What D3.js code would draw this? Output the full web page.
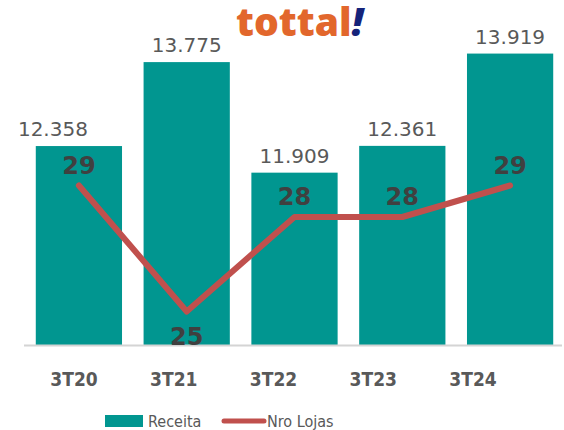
<!DOCTYPE html>
<html>
<head>
<meta charset="utf-8">
<script src="https://cdn.jsdelivr.net/npm/d3@7"></script>
<style>
  body { margin: 0; background: #fff; }
  svg { display: block; }
</style>
</head>
<body>
<div id="chart"></div>
<script>
// Data
const categories = ["3T20", "3T21", "3T22", "3T23", "3T24"];
const receita = [12358, 13775, 11909, 12361, 13919];
const lojas = [29, 25, 28, 28, 29];
const legendLabels = ["Receita", "Nro Lojas"];

// Dimensions
const width = 564, height = 430;
const baseY = 345;

const svg = d3.select("#chart")
    .append("svg")
    .attr("width", width)
    .attr("height", height);

// Scales
const x = d3.scaleBand()
    .domain(categories)
    .range([25, 564])
    .paddingInner(0.2)
    .paddingOuter(0.1);

// category labels sit on a slightly tighter grid than the bars
const xLab = d3.scalePoint()
    .domain(categories)
    .range([74, 473]);

const y = d3.scaleLinear()
    .domain([9000, 14300])
    .range([baseY, 31]);

const y2 = d3.scaleLinear()
    .domain([24, 34])
    .range([343, 28]);

const ptBR = d3.formatLocale({decimal: ",", thousands: ".", grouping: [3], currency: ["R$", ""]});
const fmt = ptBR.format(",");

// Logo
const logo = svg.append("text")
    .attr("x", 236)
    .attr("y", 36)
    .style("font-family", "'Open Sans'")
    .style("font-weight", 800)
    .style("font-size", "39px");
logo.append("tspan").attr("fill", "#e2672c").text("tottal");
logo.append("tspan").attr("fill", "#15237a").style("font-style", "italic").text("!");

// Bars
svg.selectAll(".bar")
    .data(receita)
    .enter()
    .append("rect")
    .attr("class", "bar")
    .attr("x", (d, i) => x(categories[i]))
    .attr("width", x.bandwidth())
    .attr("y", d => y(d))
    .attr("height", d => baseY - y(d))
    .attr("fill", "#019690");

// Baseline
svg.append("line")
    .attr("x1", 24).attr("x2", 562)
    .attr("y1", baseY + 0.5).attr("y2", baseY + 0.5)
    .attr("stroke", "#d4d4d4")
    .attr("stroke-width", 2);

// Value labels
svg.selectAll(".val")
    .data(receita)
    .enter()
    .append("text")
    .attr("class", "val")
    .attr("x", (d, i) => x(categories[i]) + x.bandwidth() / 2 + (i === 0 ? -26 : 0))
    .attr("y", d => y(d) - 10)
    .attr("text-anchor", "middle")
    .style("font-family", "'DejaVu Sans'")
    .style("font-size", "20px")
    .attr("fill", "#595959")
    .text(d => fmt(d));

// Line
const line = d3.line()
    .x((d, i) => x(categories[i]) + x.bandwidth() / 2)
    .y(d => y2(d));

svg.append("path")
    .datum(lojas)
    .attr("d", line)
    .attr("fill", "none")
    .attr("stroke", "#c0504d")
    .attr("stroke-width", 6)
    .attr("stroke-linecap", "round")
    .attr("stroke-linejoin", "round");

// Line labels
const minLojas = d3.min(lojas);
svg.selectAll(".lbl")
    .data(lojas)
    .enter()
    .append("text")
    .attr("class", "lbl")
    .attr("x", (d, i) => x(categories[i]) + x.bandwidth() / 2)
    .attr("y", d => d === minLojas ? y2(d) + 33 : y2(d) - 12)
    .attr("text-anchor", "middle")
    .style("font-family", "'DejaVu Sans'")
    .style("font-weight", "bold")
    .style("font-size", "24px")
    .attr("fill", "#404040")
    .text(d => d);

// Category labels
svg.selectAll(".cat")
    .data(categories)
    .enter()
    .append("text")
    .attr("class", "cat")
    .attr("x", d => xLab(d))
    .attr("y", 386)
    .attr("text-anchor", "middle")
    .style("font-family", "'DejaVu Sans Condensed', 'DejaVu Sans'")
    .style("font-stretch", "condensed")
    .style("font-weight", "bold")
    .style("font-size", "19px")
    .attr("fill", "#595959")
    .text(d => d);

// Legend
const legend = svg.append("g");
legend.append("rect")
    .attr("x", 105).attr("y", 415)
    .attr("width", 38).attr("height", 12)
    .attr("fill", "#019690");
legend.append("text")
    .attr("x", 148).attr("y", 427)
    .style("font-family", "'DejaVu Sans Condensed', 'DejaVu Sans'")
    .style("font-stretch", "condensed")
    .style("font-size", "16px")
    .attr("fill", "#595959")
    .text(legendLabels[0]);
legend.append("line")
    .attr("x1", 224).attr("x2", 264)
    .attr("y1", 421).attr("y2", 421)
    .attr("stroke", "#c0504d")
    .attr("stroke-width", 5)
    .attr("stroke-linecap", "round");
legend.append("text")
    .attr("x", 267).attr("y", 427)
    .style("font-family", "'DejaVu Sans Condensed', 'DejaVu Sans'")
    .style("font-stretch", "condensed")
    .style("font-size", "16px")
    .attr("fill", "#595959")
    .text(legendLabels[1]);
</script>
</body>
</html>
